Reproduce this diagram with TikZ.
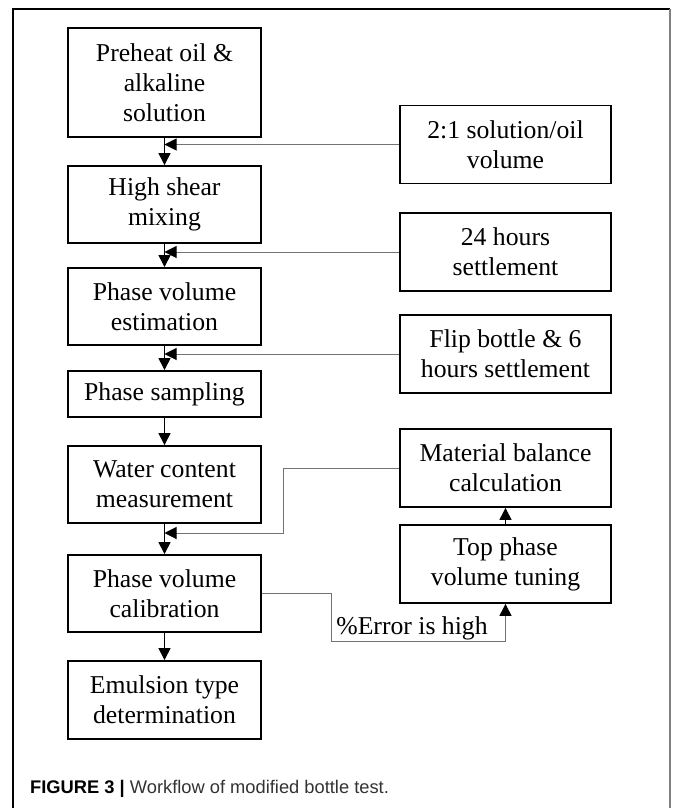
\documentclass[tikz,border=0pt]{standalone}
\usepackage{fontspec}
\setmainfont{Liberation Serif}
\newfontfamily\capfont{Liberation Sans}
\usepackage{tikz}
\usetikzlibrary{arrows.meta,%
		calc,%
		positioning}

\begin{document}
\begin{tikzpicture}[x=1pt,y=-1pt,font=\fontsize{25.7}{30}\selectfont,
  box/.style={draw,line width=1.8pt,align=center,minimum width=193pt,inner sep=0pt},
  rbox/.style={box,minimum width=211pt,minimum height=78pt},
  flow/.style={line width=1pt,-{Triangle[length=12pt,width=12pt]}},
  feed/.style={draw=black!55,line width=1pt,-{Triangle[length=12pt,width=12pt,color=black]}}]

  \useasboundingbox (0,0) rectangle (672,808);

  % frame
  \draw[line width=1.5pt] (13,808) -- (13,9) -- (670,9);
  \draw[line width=1.5pt,black!50] (670,9) -- (670,808);

  % main steps
  \node[box,minimum height=109pt] (pre) at (164.5,82.5) {Preheat oil \&\\alkaline\\solution};
  \node[box,minimum height=77pt] (mix) at (164.5,204.5) {High shear\\mixing};
  \node[box,minimum height=77pt] (est) at (164.5,306.5) {Phase volume\\estimation};
  \node[box,minimum height=46pt] (smp) at (164.5,394) {Phase sampling};
  \node[box,minimum height=77pt] (wat) at (164.5,484.5) {Water content\\measurement};
  \node[box,minimum height=77pt] (cal) at (164.5,593.5) {Phase volume\\calibration};
  \node[box,minimum height=78pt] (emu) at (164.5,700) {Emulsion type\\determination};

  % side inputs
  \node[rbox] (ratio) at (505.5,144.5) {2:1 solution/oil\\volume};
  \node[rbox] (settle) at (505.5,252) {24 hours\\settlement};
  \node[rbox] (flip) at (505.5,354) {Flip bottle \& 6\\hours settlement};
  \node[rbox] (bal) at (505.5,468) {Material balance\\calculation};
  \node[rbox] (tune) at (505.5,564) {Top phase\\volume tuning};

  \draw[flow] (pre.south) -- (mix.north);
  \draw[flow] (mix.south) -- (est.north);
  \draw[flow] (est.south) -- (smp.north);
  \draw[flow] (smp.south) -- (wat.north);
  \draw[flow] (wat.south) -- (cal.north);
  \draw[flow] (cal.south) -- (emu.north);

  \draw[feed] (ratio.west) -- (ratio.west -| pre.south);
  \draw[feed] (settle.west) -- (settle.west -| mix.south);
  \draw[feed] (flip.west) -- (flip.west -| est.south);

  \coordinate (jn) at (283,533);
  \draw[feed] (bal.west) -| (jn) -- (jn -| wat.south);

  \coordinate (lo) at (331,641);
  \draw[feed] (cal.east) -| (lo) -- (lo -| tune.south) -- (tune.south);
  \node (err) at (412,628) {\%Error is high};
  \draw[flow] (tune.north) -- (bal.south);

  \node[anchor=base west,inner sep=0pt,font=\capfont\fontsize{18.3}{21}\selectfont] (cap) at (30,793)
    {\textbf{FIGURE 3 |} {\color{black!80}Workflow of modified bottle test.}};

\end{tikzpicture}
\end{document}
